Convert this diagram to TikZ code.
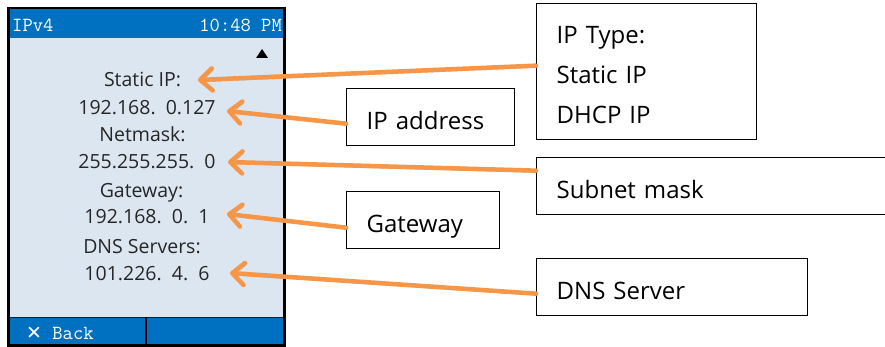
\documentclass[tikz,border=0pt]{standalone}
\usepackage{fontspec}
\setmainfont{Open Sans}
\newfontfamily\symfnt{DejaVu Sans}
\usetikzlibrary{arrows.meta}
\definecolor{scrbg}{HTML}{DCE6F1}
\definecolor{scrblue}{HTML}{0070C0}
\definecolor{orng}{HTML}{F79646}
\tikzset{
 scrtext/.style={anchor=base, font=\fontsize{19.5}{22}\selectfont, text=black!85, inner sep=0pt},
 hdrtext/.style={font=\ttfamily\fontsize{20}{22}\selectfont, text=white, inner sep=0pt},
 note/.style={draw=black, line width=1.3pt, fill=white, anchor=north west, align=left,
   font=\fontsize{24}{40}\selectfont, inner xsep=20pt, inner ysep=0pt,
   text height=26pt, text depth=2pt},
 pointer/.style={draw=orng, line width=4.5pt, line cap=round,
   -{Straight Barb[length=12pt,width=22pt,line cap=round,line join=round]},
   preaction={draw=black, opacity=0.2, transform canvas={shift={(1.5pt,-2pt)}}}}
}
\begin{document}
\begin{tikzpicture}[x=1pt,y=-1pt]
\useasboundingbox (0,0) rectangle (885,347);
\clip (0,0) rectangle (885,347);
% screen
\fill[scrbg] (9,9) rectangle (284,345);
\fill[scrblue] (9,9) rectangle (284,38);
\fill[scrblue] (9,317) rectangle (284,345);
\draw[black!70!scrblue, line width=1pt] (9,317) -- (284,317);
\draw[black, line width=1.5pt] (146,317) -- (146,345);
\draw[black, line width=2.5pt] (8.5,8) rectangle (284.5,345.5);
\node[hdrtext, anchor=base west] (hdrl) at (12,32) {IPv4};
\node[hdrtext, anchor=base east] (hdrr) at (282,32) {10:48 PM};
\node[hdrtext, anchor=base west] (back) at (26,339) {{\symfnt\fontsize{19}{20}\selectfont ✕} Back};
\fill[black] (256,58) -- (268,58) -- (262,49) -- cycle;
% screen texts
\node[scrtext] (l1) at (142.5,87) {Static IP:};
\node[scrtext] (v1) at (147,115) {192.168.\ \ 0.127};
\node[scrtext] (l2) at (142.5,142) {Netmask:};
\node[scrtext] (v2) at (147,169) {255.255.255.\ \ 0};
\node[scrtext] (l3) at (141.5,198) {Gateway:};
\node[scrtext] (v3) at (147,224) {192.168.\ \ 0.\ \ 1};
\node[scrtext] (l4) at (142,253) {DNS Servers:};
\node[scrtext] (v4) at (147,280) {101.226.\ \ 4.\ \ 6};
% annotation boxes
\node[note, text width=180pt, minimum height=136pt, text height=20pt, text depth=76pt] (ipt) at (536,3) {IP Type:\\Static IP\\DHCP IP};
\node[note, text width=128pt, minimum height=57pt] (ipa) at (346,88) {IP address};
\node[note, text width=320pt, minimum height=57pt] (sub) at (536,157) {Subnet mask};
\node[note, text width=113pt, minimum height=57pt] (gw) at (346,191) {Gateway};
\node[note, text width=231pt, minimum height=57pt] (dns) at (536,258) {DNS Server};
% arrow tips
\coordinate (tS) at (198,80);
\coordinate (tA) at (227,111);
\coordinate (tN) at (228,162);
\coordinate (tG) at (227,214);
\coordinate (tD) at (230,273);
% connectors
\draw[pointer] ([yshift=6pt]ipt.west) -- (tS);
\draw[pointer] ([yshift=-6.5pt]ipa.west) -- (tA);
\draw[pointer] ([yshift=15.5pt]sub.west) -- (tN);
\draw[pointer] ([yshift=-7.5pt]gw.west) -- (tG);
\draw[pointer] ([yshift=-6.5pt]dns.west) -- (tD);
\end{tikzpicture}
\end{document}
